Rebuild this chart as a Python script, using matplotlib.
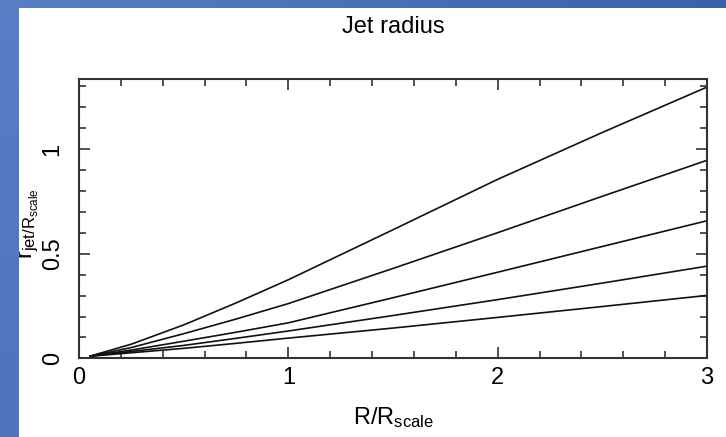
import matplotlib
matplotlib.use("Agg")
import matplotlib.pyplot as plt
import numpy as np
from matplotlib.ticker import MultipleLocator

plt.rcParams['font.family'] = ['Liberation Sans', 'DejaVu Sans']
plt.rcParams['mathtext.fontset'] = 'custom'
plt.rcParams['mathtext.rm'] = 'Liberation Sans'
plt.rcParams['mathtext.it'] = 'Liberation Sans'

# data
x_vals = [0.05, 0.25, 0.5, 0.75, 1.0, 1.5, 2.0, 2.5, 3.0]
r_1 = [0.01, 0.068, 0.16, 0.265, 0.376, 0.615, 0.856, 1.08, 1.297]
r_2 = [0.01, 0.052, 0.118, 0.188, 0.262, 0.43, 0.601, 0.775, 0.947]
r_3 = [0.01, 0.04, 0.082, 0.125, 0.170, 0.29, 0.412, 0.535, 0.658]
r_4 = [0.01, 0.033, 0.062, 0.096, 0.131, 0.205, 0.281, 0.36, 0.441]
r_5 = [0.01, 0.027, 0.048, 0.072, 0.097, 0.145, 0.196, 0.248, 0.301]
series = [r_1, r_2, r_3, r_4, r_5]
x_ticks = [0, 1, 2, 3]
y_ticks = [0, 0.5, 1]
y_tick_labels = ['0', '0.5', '1']

W, H = 726, 437
fig = plt.figure(figsize=(W / 100, H / 100), dpi=100)
fig.patch.set_facecolor('white')

ax = fig.add_axes([79 / W, 1 - 358.4 / H, (707 - 79) / W, (358.4 - 78.5) / H])
for s in series:
    ax.plot(x_vals, s, color='#111111', lw=1.2, solid_capstyle='butt')

ax.set_xlim(0, 3)
ax.set_ylim(0, 1.338)
ax.set_xticks(x_ticks)
ax.set_xticklabels([str(t) for t in x_ticks])
ax.set_yticks(y_ticks)
ax.set_yticklabels(y_tick_labels, rotation=90, va='center')
ax.xaxis.set_minor_locator(MultipleLocator(0.2))
ax.yaxis.set_minor_locator(MultipleLocator(0.1))
ax.tick_params(which='both', direction='in', top=True, right=True, color='#333333', width=1.2)
ax.tick_params(which='major', length=8, labelsize=17)
ax.tick_params(which='minor', length=5)
ax.tick_params(axis='x', which='major', pad=6)
ax.tick_params(axis='y', which='major', pad=11)
for sp in ax.spines.values():
    sp.set_color('#333333')
    sp.set_linewidth(1.5)

ax.set_title('Jet radius', fontsize=17, pad=33)
ax.set_xlabel(r'$\mathregular{R/R_{scale}}$', fontsize=17, labelpad=12)
ax.set_ylabel(r'$\mathregular{r_{jet/R_{scale}}}$', fontsize=17)
ax.yaxis.set_label_coords(-0.061, 0.48)

# slide background: blue strip on left and top
bg = fig.add_axes([0, 0, 1, 1], zorder=10)
bg.set_axis_off()
grad_left = np.linspace(0, 1, 50).reshape(-1, 1)
bg.imshow(grad_left, extent=(0, 19, H, 0), cmap=matplotlib.colors.LinearSegmentedColormap.from_list('l', ['#5a7ec4', '#4f74bc']), aspect='auto')
grad_top = np.linspace(0, 1, 100).reshape(1, -1)
bg.imshow(grad_top, extent=(0, W, 8, 0), cmap=matplotlib.colors.LinearSegmentedColormap.from_list('t', ['#5a7ec4', '#3a62a8']), aspect='auto')
bg.set_xlim(0, W)
bg.set_ylim(H, 0)

fig.savefig('out.png', dpi=100)
